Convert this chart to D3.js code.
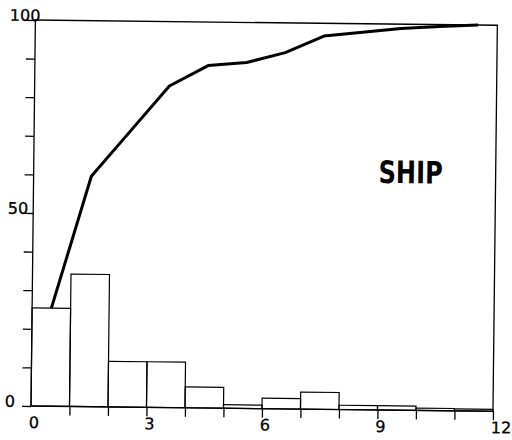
<!DOCTYPE html>
<html>
<head>
<meta charset="utf-8">
<script src="https://cdn.jsdelivr.net/npm/d3@7"></script>
<style>
body { margin: 0; background: #fff; }
text { font-family: "DejaVu Sans", sans-serif; fill: #000; }
</style>
</head>
<body>
<script>
// one bin per unit on the x axis, percent in each bin
var bins = [0, 1, 2, 3, 4, 5, 6, 7, 8, 9, 10, 11]
var percents = [25.4, 34.3, 11.8, 11.8, 5.4, 0.9, 2.7, 4.4, 1.1, 1.1, 0.6, 0.5]
// cumulative percent, plotted at the middle of each bin
var cumulative = [25.4, 59.7, 71.5, 83.3, 88.7, 89.6, 92.3, 96.7, 97.8, 98.9, 99.5, 100]
var xTickLabels = [0, 3, 6, 9, 12]
var yTickLabels = [0, 50, 100]
var title = "SHIP"

var width = 462, height = 386

var svg = d3.select("body").append("svg")
    .attr("width", 512)
    .attr("height", 440)

// the scanned plot is slightly tilted
var g = svg.append("g")
    .attr("transform", "translate(31,20) rotate(0.65,0," + height + ")")

var x = d3.scaleLinear().domain([0, 12]).range([0, width])
var y = d3.scaleLinear().domain([0, 100]).range([height, 0])

// bars
g.selectAll("rect.bar")
    .data(bins)
    .enter()
    .append("rect")
    .attr("class", "bar")
    .attr("x", function(d){return x(d)})
    .attr("width", function(d){return x(d + 1) - x(d)})
    .attr("y", function(d, i){return y(percents[i])})
    .attr("height", function(d, i){return y(0) - y(percents[i])})
    .attr("fill", "none")
    .attr("stroke", "#000")
    .attr("stroke-width", 1.2)

// frame
g.append("rect")
    .attr("width", width)
    .attr("height", height)
    .attr("fill", "none")
    .attr("stroke", "#000")
    .attr("stroke-width", 1.3)

// ticks
var xAxis = g.append("g")
    .attr("transform", "translate(0," + height + ")")
    .call(d3.axisBottom(x).tickValues(d3.range(1, 13)).tickSize(9).tickSizeOuter(0).tickFormat(""))
var yAxis = g.append("g")
    .call(d3.axisLeft(y).tickValues(d3.range(0, 101, 10)).tickSize(9).tickSizeOuter(0).tickFormat(""))
g.selectAll(".domain").remove()
g.selectAll(".tick line").attr("stroke", "#000").attr("stroke-width", 1.3)

// tick labels
g.selectAll("text.xlab")
    .data(xTickLabels)
    .enter()
    .append("text")
    .attr("class", "xlab")
    .attr("x", function(d){return x(d) - 2})
    .attr("y", height + 22)
    .attr("font-size", 16)
    .attr("stroke", "#000")
    .attr("stroke-width", 0.3)
    .text(function(d){return d})

var yLabelDx = {0: -16, 50: -5, 100: 5}
g.selectAll("text.ylab")
    .data(yTickLabels)
    .enter()
    .append("text")
    .attr("class", "ylab")
    .attr("x", function(d){return yLabelDx[d]})
    .attr("y", function(d){return y(d) + 1})
    .attr("text-anchor", "end")
    .attr("font-size", 16)
    .attr("stroke", "#000")
    .attr("stroke-width", 0.3)
    .text(function(d){return d})

// cumulative line
var line = d3.line()
    .x(function(d, i){return x(bins[i] + 0.5)})
    .y(function(d){return y(d)})

g.append("path")
    .datum(cumulative)
    .attr("d", line)
    .attr("fill", "none")
    .attr("stroke", "#000")
    .attr("stroke-width", 3)
    .attr("stroke-linejoin", "round")

g.append("text")
    .attr("x", 345)
    .attr("y", 159)
    .attr("font-size", 31)
    .attr("font-weight", "bold")
    .attr("textLength", 64)
    .attr("lengthAdjust", "spacingAndGlyphs")
    .text(title)
</script>
</body>
</html>
